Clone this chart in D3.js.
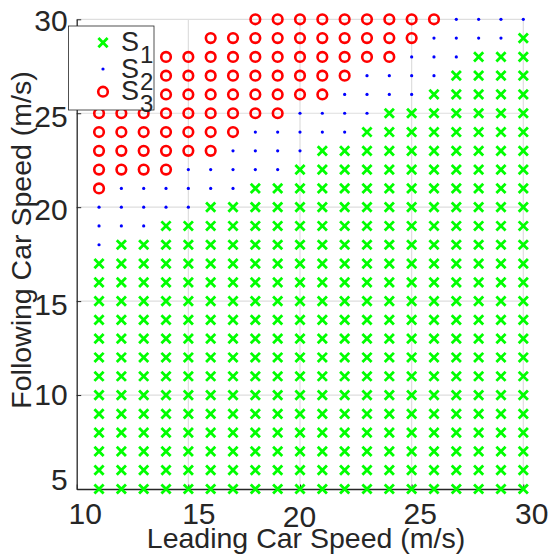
<!DOCTYPE html>
<html>
<head>
<meta charset="utf-8">
<script src="https://cdn.jsdelivr.net/npm/d3@7"></script>
<style>
  html, body { margin: 0; padding: 0; background: #fff; }
  svg { display: block; }
  text { font-family: "Liberation Sans", Arial, Helvetica, sans-serif; fill: #262626; }
</style>
</head>
<body>
<svg id="chart" width="551" height="560"></svg>
<script>
// Leading car speed columns (m/s)
const leadSpeeds = [11, 12, 13, 14, 15, 16, 17, 18, 19, 20, 21, 22, 23, 24, 25, 26, 27, 28, 29, 30];
// Following car speed rows (m/s)
const followSpeeds = [5, 6, 7, 8, 9, 10, 11, 12, 13, 14, 15, 16, 17, 18, 19, 20, 21, 22, 23, 24, 25, 26, 27, 28, 29, 30];
// Highest following speed in each region, per leading-speed column
const s1Top = [17, 18, 18, 19, 19, 20, 20, 21, 21, 22, 23, 23, 24, 25, 25, 26, 27, 28, 28, 29];
const s2Top = [20, 21, 21, 21, 22, 22, 23, 24, 24, 25, 25, 26, 27, 27, 28, 29, 30, 30, 30, 30];
const s3Top = [25, 25, 25, 28, 28, 29, 29, 30, 30, 30, 30, 30, 30, 30, 30, 30, 30, 30, 30, 30];

const xTicks = [10, 15, 20, 25, 30];
const yTicks = [5, 10, 15, 20, 25, 30];
const seriesNames = ["S1", "S2", "S3"];

// Build the three point sets
const s1 = [], s2 = [], s3 = [];
leadSpeeds.forEach((lx, i) => {
  followSpeeds.forEach(fy => {
    if (fy <= s1Top[i]) s1.push([lx, fy]);
    else if (fy <= s2Top[i]) s2.push([lx, fy]);
    else if (fy <= s3Top[i]) s3.push([lx, fy]);
  });
});

const svg = d3.select("#chart");
const L = 76.7, R = 523.3, T = 19.3, B = 489;
const x = d3.scaleLinear().domain([10, 30]).range([L, R]);
const y = d3.scaleLinear().domain([5, 30]).range([B, T]);

// grid
const grid = svg.append("g").attr("stroke", "#dedede").attr("stroke-width", 1.2);
xTicks.filter(v => v > 10).forEach(v => {
  grid.append("line").attr("x1", x(v)).attr("x2", x(v)).attr("y1", y(30)).attr("y2", y(5));
});
yTicks.filter(v => v > 5).forEach(v => {
  grid.append("line").attr("x1", x(10)).attr("x2", x(30)).attr("y1", y(v)).attr("y2", y(v));
});

// small nudges for tick label placement
const xLabelShift = {10: [8, 0], 15: [10, 0], 20: [-1, 3], 25: [8, 0], 30: [8, 0]};
const yLabelShift = {5: -9, 10: 0, 15: 4, 20: 3, 25: 4, 30: 2};

const xAxis = svg.append("g").attr("transform", `translate(0,${B})`)
  .call(d3.axisBottom(x).tickValues(xTicks).tickSizeInner(-4.5).tickSizeOuter(0).tickPadding(14).tickFormat(d3.format("d")));
const yAxis = svg.append("g").attr("transform", `translate(${L},0)`)
  .call(d3.axisLeft(y).tickValues(yTicks).tickSizeInner(-4.5).tickSizeOuter(0).tickPadding(9).tickFormat(d3.format("d")));

[xAxis, yAxis].forEach(a => {
  a.select(".domain").attr("stroke", "#262626").attr("stroke-width", 1.3);
  a.selectAll(".tick line").attr("stroke", "#262626").attr("stroke-width", 1);
  a.selectAll("text").attr("font-size", 30).attr("font-family", null).attr("fill", "#262626");
});
xAxis.selectAll(".tick text").attr("transform", d => `translate(${xLabelShift[d][0]},${xLabelShift[d][1]})`);
yAxis.selectAll(".tick text").attr("transform", d => `translate(0,${yLabelShift[d]})`);

// axis titles
svg.append("text").attr("x", 306).attr("y", 548).attr("text-anchor", "middle")
  .attr("font-size", 28.5).text("Leading Car Speed (m/s)");
svg.append("text").attr("transform", "translate(31,240) rotate(-90)").attr("text-anchor", "middle")
  .attr("font-size", 28.5).text("Following Car Speed (m/s)");

// markers
const arm = 4.6;
const crossPath = (cx, cy) => `M${cx - arm},${cy - arm}L${cx + arm},${cy + arm}M${cx - arm},${cy + arm}L${cx + arm},${cy - arm}`;
const marks = svg.append("g");
marks.append("g").selectAll("path").data(s1).join("path")
  .attr("d", d => crossPath(x(d[0]), y(d[1])))
  .attr("stroke", "#00ff00").attr("stroke-width", 2.8).attr("fill", "none");
marks.append("g").selectAll("circle").data(s2).join("circle")
  .attr("cx", d => x(d[0])).attr("cy", d => y(d[1])).attr("r", 1.6).attr("fill", "#0000ff");
marks.append("g").selectAll("circle").data(s3).join("circle")
  .attr("cx", d => x(d[0])).attr("cy", d => y(d[1])).attr("r", 4.8)
  .attr("fill", "none").attr("stroke", "#ff0000").attr("stroke-width", 2.6);

// legend
const lg = svg.append("g");
lg.append("rect").attr("x", 68.5).attr("y", 26).attr("width", 85.5).attr("height", 84)
  .attr("fill", "#fff").attr("stroke", "#262626").attr("stroke-width", 0.8);
const rowsY = [42.7, 69, 91.7];
const mx = 103;
lg.append("path").attr("d", crossPath(mx, rowsY[0])).attr("stroke", "#00ff00").attr("stroke-width", 2.8).attr("fill", "none");
lg.append("circle").attr("cx", mx).attr("cy", rowsY[1]).attr("r", 1.6).attr("fill", "#0000ff");
lg.append("circle").attr("cx", mx).attr("cy", rowsY[2]).attr("r", 4.8).attr("fill", "none").attr("stroke", "#ff0000").attr("stroke-width", 2.6);
seriesNames.forEach((name, i) => {
  const t = lg.append("text").attr("x", 121).attr("y", rowsY[i] + 8.5).attr("font-size", 27).attr("fill", "#000");
  t.append("tspan").text(name.charAt(0));
  t.append("tspan").attr("dx", 1).attr("dy", 12).attr("font-size", 24).text(name.slice(1));
});
</script>
</body>
</html>
